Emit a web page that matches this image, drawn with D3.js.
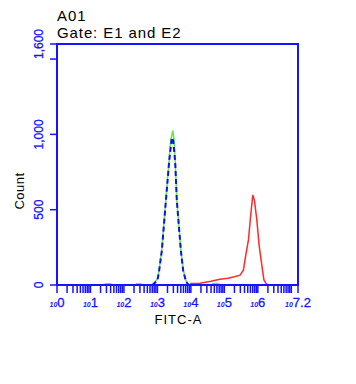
<!DOCTYPE html>
<html>
<head>
<meta charset="utf-8">
<script src="https://cdn.jsdelivr.net/npm/d3@7"></script>
<style>
  body { margin: 0; background: #fff; }
  text { font-family: Arial, "Liberation Sans", sans-serif; }
</style>
</head>
<body>
<svg width="356" height="384"></svg>
<script>
const svg = d3.select("svg");
const margin = { top: 44, right: 58, bottom: 99, left: 57 };
const width = svg.attr("width") - margin.left - margin.right;
const height = svg.attr("height") - margin.top - margin.bottom;

const axisBlue = "#1414ff";

const greenFitc = [1, 25, 28, 40, 45, 230, 240, 320, 330, 600, 740, 1000, 1120, 1350, 1780, 2240, 2510, 2880, 3160, 3390, 3800, 5010, 5890, 7080, 8130, 8900, 39800, 45700, 64600, 72400, 15800000];
const greenCount = [0, 0, 8, 8, 0, 0, 8, 8, 0, 0, 6, 40, 100, 232, 564, 830, 963, 1025, 963, 830, 564, 232, 100, 30, 8, 0, 0, 10, 10, 0, 0];

const blueFitc = [708, 1000, 1120, 1350, 1780, 2240, 2690, 2950, 3390, 3800, 5010, 5890, 7080, 8500];
const blueCount = [0, 30, 90, 225, 550, 820, 978, 960, 820, 560, 230, 95, 25, 0];

const redFitc = [8900, 10000, 18600, 39800, 74100, 126000, 200000, 295000, 372000, 437000, 525000, 603000, 708000, 794000, 933000, 1096000, 1318000, 1514000, 1778000, 2089000];
const redCount = [0, 10, 12, 25, 38, 45, 55, 65, 100, 200, 300, 450, 598, 560, 432, 260, 130, 35, 8, 0];

const yTicks = [0, 500, 1000, 1500, 1600];
const yLabels = ["0", "500", "1,000", "", "1,600"];
const xLabelExp = [0, 1, 2, 3, 4, 5, 6, 7.2];

const chart = svg.append("g")
    .attr("transform", `translate(${margin.left},${margin.top})`);

const x = d3.scaleLog().domain([1, Math.pow(10, 7.2)]).range([0, width]);
const y = d3.scaleLinear().domain([0, 1600]).range([height, 0]);

const line = d3.line()
    .x(d => x(d[0]))
    .y(d => y(d[1]));

const series = [
    { fitc: redFitc, count: redCount, color: "#ff2a2a", dash: null },
    { fitc: greenFitc, count: greenCount, color: "#5ee85e", dash: null },
    { fitc: blueFitc, count: blueCount, color: "#1010ee", dash: "5,3" }
];

series.forEach(s => {
    chart.append("path")
        .datum(d3.zip(s.fitc, s.count))
        .attr("d", line)
        .attr("fill", "none")
        .attr("stroke", s.color)
        .attr("stroke-width", s.dash ? 2 : 1.5)
        .attr("stroke-dasharray", s.dash);
});

// frame
chart.append("rect")
    .attr("width", width)
    .attr("height", height)
    .attr("fill", "none")
    .attr("stroke", axisBlue)
    .attr("stroke-width", 2);

// x ticks
const xTicks = x.ticks().concat([Math.pow(10, 7.2)]);
chart.selectAll(".xtick")
    .data(xTicks)
    .enter().append("line")
    .attr("x1", d => x(d))
    .attr("x2", d => x(d))
    .attr("y1", height)
    .attr("y2", height + 8)
    .attr("stroke", axisBlue)
    .attr("stroke-width", 1.5);

const xl = chart.selectAll(".xlabel")
    .data(xLabelExp)
    .enter().append("text")
    .attr("x", d => x(Math.pow(10, d)))
    .attr("y", height + 22)
    .attr("text-anchor", "middle")
    .attr("fill", axisBlue);
xl.append("tspan")
    .attr("font-size", 7)
    .attr("font-weight", "bold")
    .attr("font-style", "italic")
    .text("10");
xl.append("tspan")
    .attr("font-size", 13)
    .attr("stroke", axisBlue)
    .attr("stroke-width", 0.3)
    .text(d => d);

// y ticks
chart.selectAll(".ytick")
    .data(yTicks)
    .enter().append("line")
    .attr("x1", -7)
    .attr("x2", 0)
    .attr("y1", d => y(d))
    .attr("y2", d => y(d))
    .attr("stroke", axisBlue)
    .attr("stroke-width", 1.5);

chart.selectAll(".ylabel")
    .data(yTicks)
    .enter().append("text")
    .attr("transform", d => `translate(-14,${y(d)}) rotate(-90)`)
    .attr("text-anchor", "middle")
    .attr("font-size", 12)
    .attr("fill", axisBlue)
    .attr("stroke", axisBlue)
    .attr("stroke-width", 0.3)
    .text((d, i) => yLabels[i]);

// axis titles
svg.append("text")
    .attr("transform", "translate(24,191) rotate(-90)")
    .attr("text-anchor", "middle")
    .attr("font-size", 13)
    .attr("letter-spacing", 0.5)
    .text("Count");

svg.append("text")
    .attr("x", margin.left + width / 2 + 1)
    .attr("y", 324)
    .attr("text-anchor", "middle")
    .attr("font-size", 13)
    .attr("letter-spacing", 1)
    .text("FITC-A");

// header
svg.append("text")
    .attr("x", 57)
    .attr("y", 21)
    .attr("font-size", 15)
    .attr("letter-spacing", 0.9)
    .text("A01");

svg.append("text")
    .attr("x", 57)
    .attr("y", 38)
    .attr("font-size", 15)
    .attr("letter-spacing", 0.9)
    .text("Gate: E1 and E2");
</script>
</body>
</html>
